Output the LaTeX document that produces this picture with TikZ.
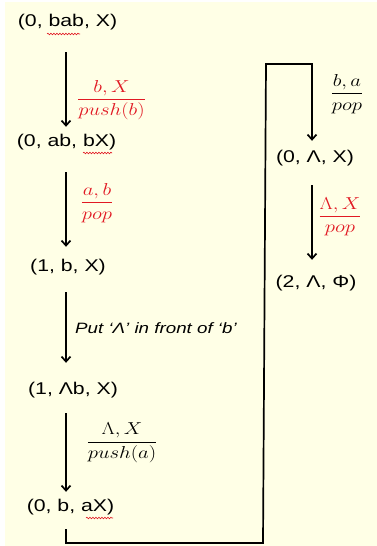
\documentclass[tikz,border=0pt]{standalone}
\usepackage{fontspec}
\usepackage{amsmath}
\usepackage{graphicx}
\setmainfont[FakeStretch=1.25]{Liberation Sans}
\usetikzlibrary{arrows.meta,decorations.pathmorphing}
\definecolor{bg}{RGB}{255,255,230}
\definecolor{lblred}{RGB}{225,25,35}
\newcommand{\stretchmath}[1]{\scalebox{1.2}[1]{#1}}
\newcommand{\labfrac}[2]{\stretchmath{$\genfrac{}{}{0.9pt}{0}{#1}{#2}$}}
\tikzset{
  state/.style={inner sep=0pt, text height=12pt, text depth=4pt, font=\fontsize{17}{20}\selectfont},
  arr/.style={line width=1.7pt, -{Straight Barb[length=5pt,width=9pt]}},
  frac/.style={inner sep=0pt, font=\fontsize{18}{20}\selectfont},
  redfrac/.style={frac, text=lblred},
  note/.style={inner sep=0pt, anchor=west, font=\fontsize{15}{18}\selectfont\itshape},
  squig/.style={lblred, line width=0.6pt, decorate, decoration={snake, amplitude=0.8pt, segment length=3pt}}
}
\begin{document}
\begin{tikzpicture}[x=1pt,y=-1pt]
\useasboundingbox (0,0) rectangle (377,546);
\fill[white] (0,0) rectangle (377,546);
\fill[bg] (5,2) rectangle (377,546);
% left column
\coordinate (col) at (66,0);
\coordinate (colr) at (312,0);
\node[state] (n1) at (67.5,23) {(0, bab, X)};
\node[state] (n2) at (66.5,142) {(0, ab, bX)};
\node[state] (n3) at (68,267) {(1, b, X)};
\node[state] (n4) at (73,390) {(1, Λb, X)};
\node[state] (n5) at (70.5,507) {(0, b, aX)};
% right column
\node[state] (n6) at (315,158) {(0, Λ, X)};
\node[state] (n7) at (316,283) {(2, Λ, Φ)};
% spell-check squiggles
\draw[squig] (47,34) -- (80,34);
\draw[squig] (83,153) -- (112,153);
\draw[squig] (86,518) -- (113,518);
% arrows
\draw[arr, shorten <=21pt, shorten >=7pt] (n1.south -| col) -- (n2.north -| col);
\draw[arr, shorten <=22pt, shorten >=12pt] (n2.south -| col) -- (n3.north -| col);
\draw[arr, shorten <=17pt, shorten >=19pt] (n3.south -| col) -- (n4.north -| col);
\draw[arr, shorten <=15pt, shorten >=7pt] (n4.south -| col) -- (n5.north -| col);
\draw[arr, shorten <=19pt, shorten >=15pt] (n6.south -| colr) -- (n7.north -| colr);
\draw[arr, shorten <=14pt, shorten >=9pt] (n5.south -| col) -- (66,543) -- (263,543) -- (266,64) -- (312,64) -- (n6.north -| colr);
% labels
\node[redfrac] (l1) at (111.5,100) {\labfrac{b,X}{push(b)}};
\node[redfrac] (l2) at (97,203) {\labfrac{a,b}{pop}};
\node[note] (l3) at (75,328) {Put ‘Λ’ in front of ‘b’};
\node[frac] (l4) at (122,443) {\labfrac{\Lambda,X}{push(a)}};
\node[frac] (l5) at (347,94) {\labfrac{b,a}{pop}};
\node[redfrac] (l6) at (340,217) {\labfrac{\Lambda,X}{pop}};
\end{tikzpicture}
\end{document}
